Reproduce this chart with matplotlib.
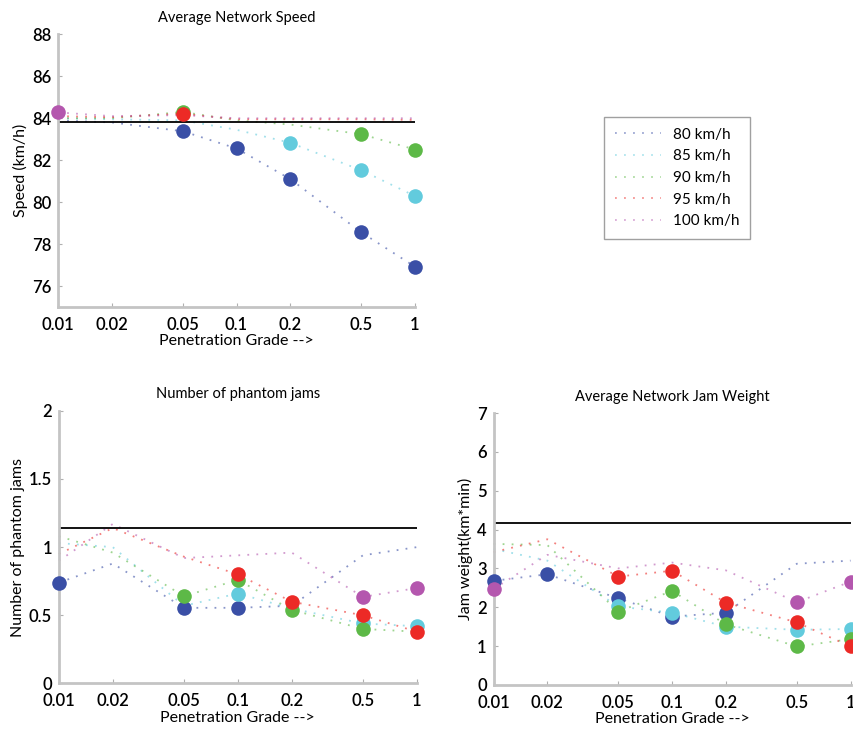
import matplotlib
matplotlib.use("Agg")
import matplotlib.pyplot as plt
from matplotlib.lines import Line2D

plt.rcParams['font.family'] = ['Lato', 'DejaVu Sans']

grades = [0.01, 0.02, 0.05, 0.1, 0.2, 0.5, 1]
grade_labels = ['0.01', '0.02', '0.05', '0.1', '0.2', '0.5', '1']
limits = ['80 km/h', '85 km/h', '90 km/h', '95 km/h', '100 km/h']
colors = ['#3a4fa6', '#62cbdd', '#5db947', '#ec2a26', '#b457ae']

# average network speed (km/h), one row per speed limit
speed = [
    [83.90, 83.80, 83.38, 82.56, 81.10, 78.56, 76.92],
    [84.00, 83.95, 83.90, 83.45, 82.83, 81.52, 80.29],
    [84.00, 84.00, 84.30, 83.90, 83.70, 83.24, 82.51],
    [84.10, 84.05, 84.22, 83.95, 83.95, 83.95, 83.92],
    [84.28, 84.10, 84.15, 84.00, 84.00, 84.00, 84.00],
]
speed_marked = [[2, 3, 4, 5, 6], [4, 5, 6], [2, 5, 6], [2], [0]]
speed_ref = 83.8

# number of phantom jams
jams = [
    [0.74, 0.88, 0.555, 0.555, 0.57, 0.94, 1.00],
    [1.03, 1.00, 0.57, 0.66, 0.55, 0.44, 0.42],
    [1.08, 0.96, 0.64, 0.76, 0.54, 0.40, 0.38],
    [0.95, 1.14, 0.93, 0.80, 0.60, 0.50, 0.38],
    [0.90, 1.17, 0.92, 0.94, 0.96, 0.635, 0.70],
]
jams_marked = [[0, 2, 3], [3, 5, 6], [2, 3, 4, 5], [3, 4, 5, 6], [5, 6]]
jams_ref = 1.14

# average network jam weight (km*min)
weight = [
    [2.68, 2.85, 2.23, 1.76, 1.86, 3.12, 3.20],
    [3.50, 3.20, 2.02, 1.86, 1.50, 1.42, 1.44],
    [3.63, 3.60, 1.89, 2.42, 1.56, 0.99, 1.18],
    [3.42, 3.75, 2.79, 2.94, 2.12, 1.61, 0.99],
    [2.47, 3.35, 3.00, 3.15, 2.95, 2.13, 2.66],
]
weight_marked = [[0, 1, 2, 3, 4], [2, 3, 4, 5, 6], [2, 3, 4, 5, 6], [2, 3, 4, 5, 6], [0, 5, 6]]
weight_ref = 4.17


def draw_panel(ax, values, marked, ref, title, ylabel, ylim, yticks):
    for row, idx, c in zip(values, marked, colors):
        ax.plot(grades, row, linestyle=(0, (1, 4)), lw=1.3, color=c, alpha=0.6,
                clip_on=False)
        ax.plot([grades[i] for i in idx], [row[i] for i in idx], 'o', ms=10.5,
                color=c, mec='none', clip_on=False, zorder=3)
    ax.axhline(ref, color='black', lw=1.3, zorder=2)
    ax.set_xscale('log')
    ax.set_xlim(0.01, 1)
    ax.set_ylim(*ylim)
    ax.set_xticks(grades)
    ax.set_xticklabels(grade_labels)
    ax.minorticks_off()
    ax.set_yticks(yticks)
    ax.set_yticklabels([f'{t:g}' for t in yticks])
    for s in ['top', 'right']:
        ax.spines[s].set_visible(False)
    for s in ['left', 'bottom']:
        ax.spines[s].set_color('#c4c4c4')
        ax.spines[s].set_linewidth(2)
    ax.tick_params(direction='in', length=3, color='#b0b0b0', labelsize=12)
    ax.tick_params(axis='x', pad=7)
    ax.tick_params(axis='y', pad=5)
    for lab in ax.get_xticklabels() + ax.get_yticklabels():
        lab.set_fontweight('semibold')
    ax.set_title(title, fontsize=10.5, pad=9)
    ax.set_xlabel('Penetration Grade -->', fontsize=11.5, labelpad=1)
    ax.set_ylabel(ylabel, fontsize=11.5, labelpad=3)


fig = plt.figure(figsize=(8.54, 7.31), dpi=100)
ax1 = fig.add_axes([0.068, 0.58, 0.418, 0.373])
ax2 = fig.add_axes([0.069, 0.065, 0.419, 0.373])
ax3 = fig.add_axes([0.578, 0.063, 0.418, 0.372])

draw_panel(ax1, speed, speed_marked, speed_ref, 'Average Network Speed',
           'Speed (km/h)', (75, 88), [76, 78, 80, 82, 84, 86, 88])
draw_panel(ax2, jams, jams_marked, jams_ref, 'Number of phantom jams',
           'Number of phantom jams', (0, 2), [0, 0.5, 1, 1.5, 2])
draw_panel(ax3, weight, weight_marked, weight_ref, 'Average Network Jam Weight',
           'Jam weight(km*min)', (0, 7), [0, 1, 2, 3, 4, 5, 6, 7])

handles = [Line2D([], [], linestyle=(0, (1, 4)), lw=1.3, color=c, alpha=0.5)
           for c in colors]
leg = fig.legend(handles, limits, loc='upper left',
                 bbox_to_anchor=(604 / 854, 1 - 117 / 731), fontsize=11,
                 frameon=True, fancybox=False, handlelength=3.0,
                 labelspacing=0.5, borderpad=0.7, handletextpad=0.8,
                 borderaxespad=0)
leg.get_frame().set_edgecolor('#888888')
leg.get_frame().set_linewidth(1.0)

fig.savefig('out.png', dpi=100)
